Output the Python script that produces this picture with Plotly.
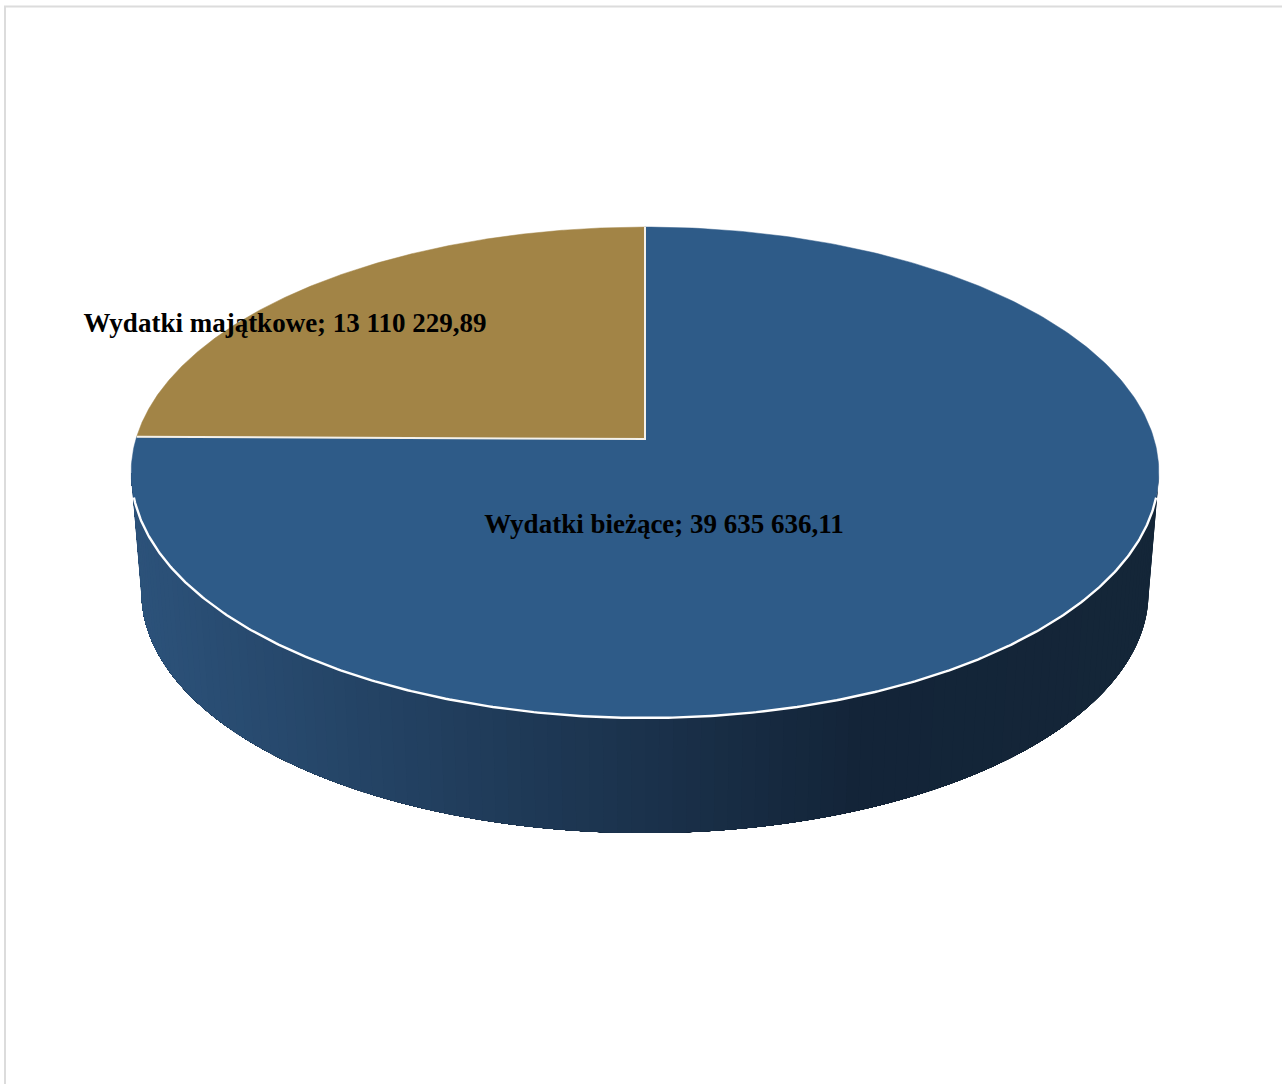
import numpy as np
import plotly.graph_objects as go

categories = ["Wydatki bieżące", "Wydatki majątkowe"]
values = [39635636.11, 13110229.89]
top_colors = ["#2e5b88", "#a28446"]
wall_stops_x = [130, 860, 1158]
wall_stops_rgb = [(44, 82, 122), (19, 36, 56), (20, 38, 56)]

W, H = 1282, 1084
CX, CY = 645, 439      # projected pie centre
A, B, K = 240.9, 509, 0.1365   # perspective of the top disc
SCALE, VY = 0.98, 6470  # where the lower rim lands (toward vanishing point)


def project(theta):
    u, v = np.sin(theta), np.cos(theta)
    d = 1 + K * v
    return CX + B * u / d, CY - A * v / d


def lower(x, y):
    return CX + (x - CX) * SCALE, VY - (VY - y) * SCALE


def money(v):
    whole, frac = f"{v:,.2f}".split(".")
    return whole.replace(",", " ") + "," + frac


fractions = np.array(values) / sum(values)
edges = np.concatenate([[0], np.cumsum(fractions)]) * 2 * np.pi

fig = go.Figure()

# side wall: each band covers everything still to come, so no seams appear
t0 = np.pi / 2 + np.arcsin(K)
t1 = 3 * np.pi / 2 - np.arcsin(K)
ts = np.linspace(t0, t1, 121)
for a, b in zip(ts[:-1], ts[1:]):
    tt = np.linspace(a, t1, max(int((t1 - a) * 60), 3))
    xt, yt = project(tt)
    xb, yb = lower(xt, yt)
    xm = project(np.array([(a + b) / 2]))[0][0]
    rgb = [int(round(np.interp(xm, wall_stops_x, [c[i] for c in wall_stops_rgb]))) for i in range(3)]
    col = f"rgb({rgb[0]},{rgb[1]},{rgb[2]})"
    fig.add_trace(go.Scatter(
        x=np.concatenate([xt, xb[::-1]]), y=np.concatenate([yt, yb[::-1]]),
        mode="none", fill="toself", fillcolor=col,
        hoverinfo="skip", showlegend=False))

# top slices
for i, cat in enumerate(categories):
    tt = np.linspace(edges[i], edges[i + 1], 361)
    x, y = project(tt)
    x = np.concatenate([[CX], x, [CX]])
    y = np.concatenate([[CY], y, [CY]])
    fig.add_trace(go.Scatter(
        x=x, y=y, mode="lines", fill="toself", fillcolor=top_colors[i],
        line=dict(color=top_colors[i], width=0.5), name=cat,
        text=f"{cat}; {money(values[i])}", hoverinfo="text", showlegend=False))

# white seams between slices
xe, ye = project(np.array([edges[1], edges[0]]))
fig.add_trace(go.Scatter(
    x=[xe[0], CX, xe[1]], y=[ye[0], CY, ye[1]], mode="lines",
    line=dict(color="#f4f1ea", width=2), hoverinfo="skip", showlegend=False))

# white rim on the front edge
tt = np.linspace(t0, t1, 400)
xr, yr = project(tt)
keep = yr >= 497
fig.add_trace(go.Scatter(
    x=xr[keep], y=yr[keep], mode="lines",
    line=dict(color="white", width=2.4), hoverinfo="skip", showlegend=False))

# data labels
label_x = [664, 285]
label_y = [526, 325]
fig.add_trace(go.Scatter(
    x=label_x, y=label_y, mode="text",
    text=[f"<b>{c}; {money(v)}</b>" for c, v in zip(categories, values)],
    textposition="middle center",
    textfont=dict(family="Liberation Serif", size=27, color="black"),
    hoverinfo="skip", showlegend=False))

fig.update_layout(
    width=W, height=H, margin=dict(l=0, r=0, t=0, b=0),
    paper_bgcolor="white", plot_bgcolor="white",
    xaxis=dict(range=[0, W], visible=False, fixedrange=True),
    yaxis=dict(range=[H, 0], visible=False, fixedrange=True),
    shapes=[
        dict(type="line", x0=5, x1=5, y0=6.5, y1=H, line=dict(color="#dcdcdc", width=2)),
        dict(type="line", x0=4, x1=W, y0=6.5, y1=6.5, line=dict(color="#dcdcdc", width=2)),
    ],
)
fig.write_html(
    "out.html",
    config={"displayModeBar": False},
    post_script="document.body.style.margin='0';document.documentElement.style.overflow='hidden';",
)
